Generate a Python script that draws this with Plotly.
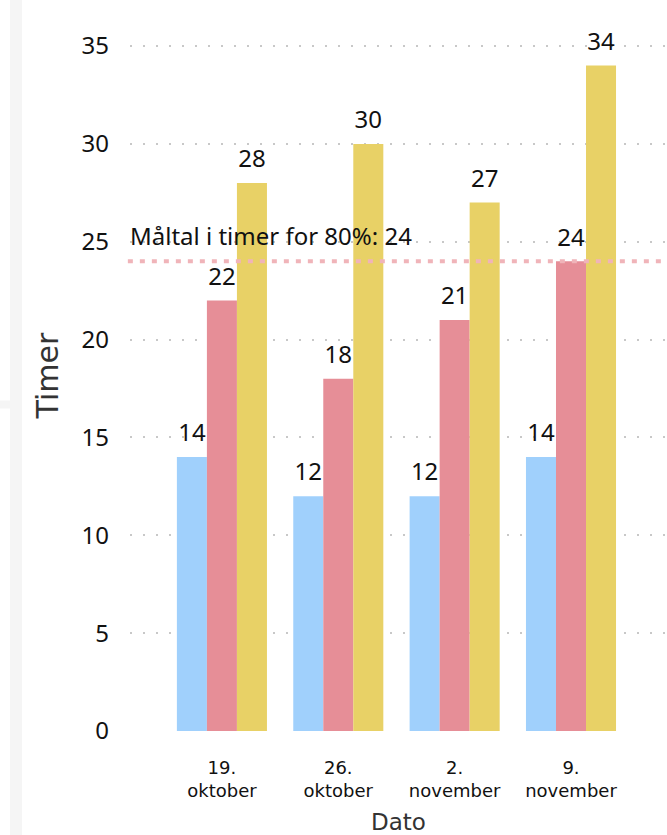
import plotly.graph_objects as go

categories = ["19.<br>oktober", "26.<br>oktober", "2.<br>november", "9.<br>november"]
series_a = [14, 12, 12, 14]
series_b = [22, 18, 21, 24]
series_c = [28, 30, 27, 34]
target_value = 24
target_label = "Måltal i timer for 80%: 24"
y_ticks = [0, 5, 10, 15, 20, 25, 30, 35]

colors = ["#a0d0fc", "#e68e97", "#e8d166"]
num_font = "Noto Sans"
lbl_font = "DejaVu Sans"
GAP = 0.226

fig = go.Figure()
for vals, col in zip([series_a, series_b, series_c], colors):
    fig.add_trace(go.Bar(
        x=categories, y=vals, marker_color=col, marker_line_width=0,
        showlegend=False, hoverinfo="x+y",
    ))
for vals in [series_a, series_b, series_c]:
    fig.add_trace(go.Scatter(
        x=categories, y=vals, mode="markers+text", text=[str(v) for v in vals],
        textposition="top center", cliponaxis=False,
        marker=dict(size=14, color="rgba(0,0,0,0)"),
        textfont=dict(family=num_font, size=24, color="#111111"),
        showlegend=False, hoverinfo="skip",
    ))

fig.add_shape(type="line", xref="paper", yref="y", x0=-0.004, x1=1, y0=target_value, y1=target_value,
              line=dict(color="#f0b4b9", width=4, dash="5px,7px"), layer="above")
fig.add_annotation(xref="paper", yref="y", x=0, y=target_value, text=target_label,
                   xanchor="left", yanchor="bottom", yshift=7, xshift=-2, showarrow=False,
                   font=dict(family=num_font, size=24, color="#111111"))

# left decorative panel strips
fig.add_shape(type="rect", xref="paper", yref="paper", x0=-0.2235, x1=-0.2011, y0=-0.2, y1=1.1,
              fillcolor="#f5f5f5", line_width=0, layer="below")
fig.add_shape(type="rect", xref="paper", yref="paper", x0=-0.245, x1=-0.2235, y0=0.4536, y1=0.4648,
              fillcolor="#f5f5f5", line_width=0, layer="below")

grid = dict(showgrid=True, gridcolor="#c8c8c8", gridwidth=2, griddash="2px,11px")

fig.update_layout(
    width=667, height=835,
    margin=dict(l=130, r=0, t=20, b=104),
    paper_bgcolor="white", plot_bgcolor="white",
    barmode="group", bargap=GAP, bargroupgap=0,
    scattermode="group", scattergap=GAP,
    xaxis=dict(range=[-0.79, 3.825], showgrid=False, zeroline=False, showline=False,
               tickfont=dict(family=lbl_font, size=18, color="#111111"),
               title=dict(text="Dato", font=dict(family=lbl_font, size=23, color="#333333"), standoff=13),
               ticks="", ticklabelstandoff=24),
    yaxis=dict(range=[0, 36.33], tickvals=y_ticks, zeroline=False, showline=False,
               tickfont=dict(family=num_font, size=24, color="#111111"),
               title=dict(text="Timer", font=dict(family=lbl_font, size=30, color="#333333"), standoff=14),
               ticklabelstandoff=20, **grid),
)

fig.write_html("out.html")
